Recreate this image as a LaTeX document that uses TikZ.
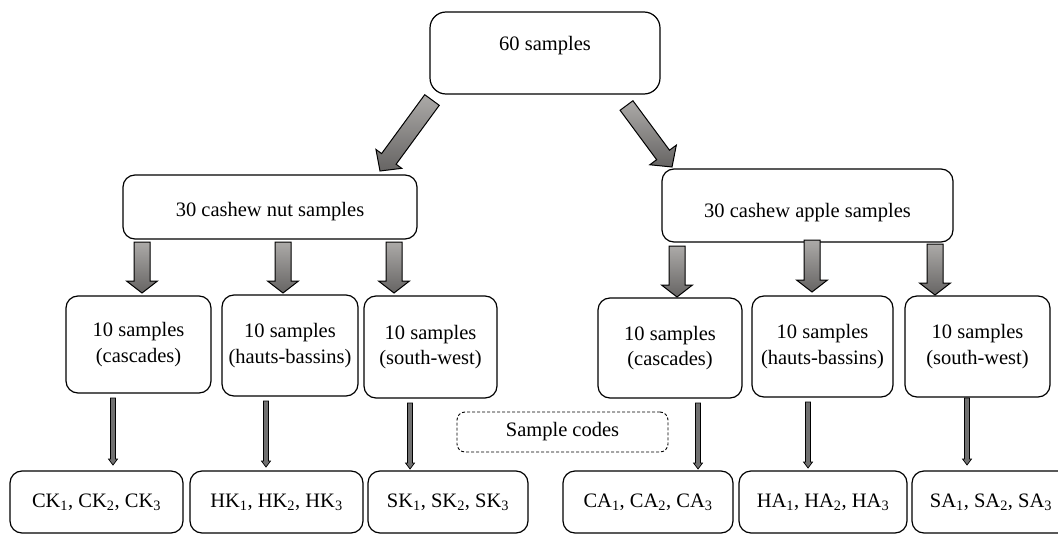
\documentclass[tikz,border=0pt]{standalone}
\usepackage{fontspec}
\setmainfont{Liberation Serif}
\usetikzlibrary{calc}
\definecolor{arrowlight}{RGB}{172,170,168}
\definecolor{arrowdark}{RGB}{102,100,99}
\definecolor{thinfill}{RGB}{112,112,112}
% #1 style, #2 from, #3 to, #4 shaft half width, #5 head half width, #6 head length
\newcommand\blockarrow[6]{%
  \coordinate (bahead) at ($(#3)!#6!(#2)$);
  \path[#1] ($(#2)!#4!90:(#3)$) -- ($(bahead)!#4!90:(#3)$) -- ($(bahead)!#5!90:(#3)$)
    -- (#3) -- ($(bahead)!#5!-90:(#3)$) -- ($(bahead)!#4!-90:(#3)$)
    -- ($(#2)!#4!-90:(#3)$) -- cycle;
}
\begin{document}
\begin{tikzpicture}[x=1pt,y=-1pt,
  font=\fontsize{20.5}{25.5}\selectfont,
  box/.style={draw, line width=1.2pt, rounded corners=12pt, align=center, inner sep=0pt},
  codebox/.style={draw, line width=0.9pt, dashed, dash pattern=on 3pt off 2pt, rounded corners=8pt, inner sep=0pt},
  bigarrow/.style={draw=black, line width=1pt, line join=miter, top color=arrowlight, bottom color=arrowdark},
  thinarrow/.style={draw=black, line width=0.7pt, line join=miter, fill=thinfill}]
\clip (0,0) rectangle (1058,535);
\fill[white] (0,0) rectangle (1058,535);

% top
\node[box, rounded corners=16pt, minimum width=230pt, minimum height=82pt, text depth=20pt] (top) at (545,53) {60 samples};

% second level
\node[box, minimum width=294pt, minimum height=64pt, text height=24pt] (nut) at (270,207) {30 cashew nut samples};
\node[box, minimum width=291pt, minimum height=73pt, text height=29pt] (apple) at (807.5,205.5) {30 cashew apple samples};

% third level
\node[box, minimum width=145pt, minimum height=97pt] (nc) at (138.5,344.5) {10 samples\\(cascades)};
\node[box, minimum width=136pt, minimum height=101pt] (nh) at (290,345.5) {10 samples\\(hauts-bassins)};
\node[box, minimum width=133pt, minimum height=102pt] (ns) at (430.5,347) {10 samples\\(south-west)};
\node[box, minimum width=144pt, minimum height=100pt] (ac) at (670,348) {10 samples\\(cascades)};
\node[box, minimum width=141pt, minimum height=101pt] (ah) at (822.5,346.5) {10 samples\\(hauts-bassins)};
\node[box, minimum width=145pt, minimum height=101pt] (as) at (977.5,346.5) {10 samples\\(south-west)};

% sample codes label
\node[codebox, minimum width=211pt, minimum height=40pt] (codes) at (562.5,432) {Sample codes};

% bottom level
\node[box, minimum width=173pt, minimum height=62pt] (ck) at (96.5,502) {CK\textsubscript{1}, CK\textsubscript{2}, CK\textsubscript{3}};
\node[box, minimum width=173pt, minimum height=62pt] (hk) at (276.5,502) {HK\textsubscript{1}, HK\textsubscript{2}, HK\textsubscript{3}};
\node[box, minimum width=160pt, minimum height=62pt] (sk) at (448,502) {SK\textsubscript{1}, SK\textsubscript{2}, SK\textsubscript{3}};
\node[box, minimum width=170pt, minimum height=62pt] (ca) at (648,502) {CA\textsubscript{1}, CA\textsubscript{2}, CA\textsubscript{3}};
\node[box, minimum width=168pt, minimum height=62pt] (ha) at (823,502) {HA\textsubscript{1}, HA\textsubscript{2}, HA\textsubscript{3}};
\node[box, minimum width=158pt, minimum height=62pt] (sa) at (991,502) {SA\textsubscript{1}, SA\textsubscript{2}, SA\textsubscript{3}};

% arrow end points
\coordinate (t2n) at (432,100);   \coordinate (t2nE) at (380,171);
\coordinate (t2a) at (626.5,105.5); \coordinate (t2aE) at (672,167);
\coordinate (n1) at (142,242); \coordinate (n1E) at (142,293);
\coordinate (n2) at (283,242); \coordinate (n2E) at (283,293);
\coordinate (n3) at (394,242); \coordinate (n3E) at (394,293);
\coordinate (a1) at (677,246); \coordinate (a1E) at (677,297);
\coordinate (a2) at (812,240); \coordinate (a2E) at (812,292);
\coordinate (a3) at (935,244); \coordinate (a3E) at (935,295);
\coordinate (c1) at (113,398); \coordinate (c1E) at (113,465);
\coordinate (c2) at (266,401); \coordinate (c2E) at (266,467);
\coordinate (c3) at (410,403); \coordinate (c3E) at (410,469);
\coordinate (c4) at (698,403); \coordinate (c4E) at (698,469);
\coordinate (c5) at (808,402); \coordinate (c5E) at (808,468);
\coordinate (c6) at (967,398); \coordinate (c6E) at (967,465);

% block arrows
\blockarrow{bigarrow}{t2n}{t2nE}{9pt}{16pt}{15pt}
\blockarrow{bigarrow}{t2a}{t2aE}{8pt}{16.5pt}{15pt}
\blockarrow{bigarrow}{n1}{n1E}{8pt}{15.5pt}{12pt}
\blockarrow{bigarrow}{n2}{n2E}{8pt}{15.5pt}{12pt}
\blockarrow{bigarrow}{n3}{n3E}{8pt}{15.5pt}{12pt}
\blockarrow{bigarrow}{a1}{a1E}{8pt}{15.5pt}{12pt}
\blockarrow{bigarrow}{a2}{a2E}{8pt}{15.5pt}{12pt}
\blockarrow{bigarrow}{a3}{a3E}{8pt}{15.5pt}{12pt}

% thin arrows
\blockarrow{thinarrow}{c1}{c1E}{2.5pt}{4.5pt}{6pt}
\blockarrow{thinarrow}{c2}{c2E}{2.5pt}{4.5pt}{6pt}
\blockarrow{thinarrow}{c3}{c3E}{2.5pt}{4.5pt}{6pt}
\blockarrow{thinarrow}{c4}{c4E}{2.5pt}{4.5pt}{6pt}
\blockarrow{thinarrow}{c5}{c5E}{2.5pt}{4.5pt}{6pt}
\blockarrow{thinarrow}{c6}{c6E}{2.5pt}{4.5pt}{6pt}
\end{tikzpicture}
\end{document}
